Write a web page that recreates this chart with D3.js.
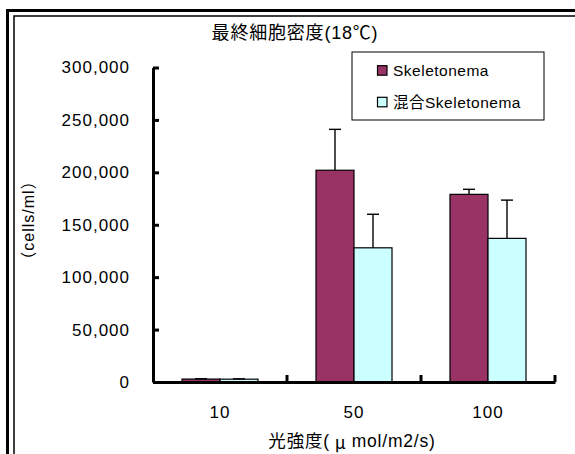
<!DOCTYPE html>
<html><head><meta charset="utf-8">
<script src="https://cdn.jsdelivr.net/npm/d3@7"></script>
<style>body{margin:0;background:#fff} svg{display:block}</style>
</head><body>
<svg id="c" width="575" height="454"></svg>
<script>
const categories = ["10", "50", "100"];
const seriesNames = ["Skeletonema", "混合Skeletonema"];
const skeletonema = [2800, 202000, 179000];
const skeletonemaErr = [300, 39000, 4800];
const mixed = [2700, 128000, 137000];
const mixedErr = [300, 32000, 36500];
const yTicks = [0, 50000, 100000, 150000, 200000, 250000, 300000];
const seriesColors = ["#993366", "#CCFFFF"];
const titleText = "最終細胞密度(18℃)";
const yTitleText = "（cells/ml）";
const xTitleParts = ["光強度(", "μ", "mol/m2/s)"];

const LAT = "'Liberation Sans', Arial, 'Noto Sans CJK JP', sans-serif";
const CJK = "'Noto Sans CJK JP', sans-serif";

const svg = d3.select("#c");
svg.append("rect").attr("width", 575).attr("height", 454).attr("fill", "#fff");

// double frame
svg.append("rect").attr("x", 7.5).attr("y", 10.5).attr("width", 700).attr("height", 600)
  .attr("fill", "none").attr("stroke", "#000").attr("stroke-width", 3);
svg.append("rect").attr("x", 14).attr("y", 16).attr("width", 700).attr("height", 600)
  .attr("fill", "none").attr("stroke", "#000").attr("stroke-width", 1.5);

const x0 = d3.scaleBand().domain(categories).range([153, 555]).paddingInner(0).paddingOuter(0);
const x1 = d3.scaleBand().domain(seriesNames).range([0, x0.bandwidth()]).paddingInner(0).paddingOuter(0.763);
const y = d3.scaleLinear().domain([0, 300000]).range([382, 67.5]);

const series = [
  {name: seriesNames[0], values: skeletonema, errs: skeletonemaErr, color: seriesColors[0]},
  {name: seriesNames[1], values: mixed, errs: mixedErr, color: seriesColors[1]}
];

// bars
series.forEach(s => {
  const g = svg.append("g");
  categories.forEach((c, i) => {
    const bx = x0(c) + x1(s.name);
    g.append("rect")
      .attr("x", bx).attr("y", y(s.values[i]))
      .attr("width", x1.bandwidth()).attr("height", y(0) - y(s.values[i]))
      .attr("fill", s.color).attr("stroke", "#000").attr("stroke-width", 1.2);
    const cx = bx + x1.bandwidth() / 2;
    const top = y(s.values[i] + s.errs[i]);
    g.append("line").attr("x1", cx).attr("x2", cx).attr("y1", y(s.values[i])).attr("y2", top)
      .attr("stroke", "#000").attr("stroke-width", 1.4);
    g.append("line").attr("x1", cx - 6).attr("x2", cx + 6).attr("y1", top).attr("y2", top)
      .attr("stroke", "#000").attr("stroke-width", 1.4);
  });
});

// y axis
const yAxis = d3.axisLeft(y).tickValues(yTicks).tickFormat(d3.format(",")).tickSizeInner(-6).tickSizeOuter(0).tickPadding(23);
const gy = svg.append("g").attr("transform", "translate(153,0)").call(yAxis);
gy.select(".domain").attr("stroke-width", 3);
gy.selectAll(".tick line").attr("stroke-width", 3);
gy.selectAll("text").attr("font-family", LAT).attr("font-size", 17).attr("letter-spacing", 1).attr("fill", "#000");

// x axis
const xAxis = d3.axisBottom(x0).tickSize(0).tickPadding(24);
const gx = svg.append("g").attr("transform", "translate(0,382)").call(xAxis);
gx.select(".domain").attr("stroke-width", 3);
gx.selectAll("text").attr("font-family", LAT).attr("font-size", 17).attr("letter-spacing", 1).attr("fill", "#000");
gx.selectAll(".bound").data(categories).enter().append("line")
  .attr("x1", d => x0(d) + x0.bandwidth()).attr("x2", d => x0(d) + x0.bandwidth())
  .attr("y1", 0).attr("y2", -7).attr("stroke", "#000").attr("stroke-width", 3);

// title
svg.append("text").attr("x", 295).attr("y", 33).attr("text-anchor", "middle")
  .attr("dominant-baseline", "central")
  .attr("font-family", LAT).attr("font-size", 18).attr("letter-spacing", 0.8).text(titleText);

// x title
const xt = svg.append("text").attr("x", 352).attr("y", 441).attr("text-anchor", "middle")
  .attr("dominant-baseline", "central")
  .attr("font-family", LAT).attr("font-size", 17.5).attr("letter-spacing", 0.8);
xt.append("tspan").text(xTitleParts[0]);
xt.append("tspan").attr("dx", 5).attr("font-family", CJK).text(xTitleParts[1]);
xt.append("tspan").attr("dx", 5).text(xTitleParts[2]);

// y title
svg.append("text").attr("transform", "translate(28.5,220) rotate(-90)")
  .attr("text-anchor", "middle").attr("dominant-baseline", "central")
  .attr("font-family", LAT).attr("font-size", 16).attr("letter-spacing", 1).text(yTitleText);

// legend
const lg = svg.append("g");
lg.append("rect").attr("x", 352).attr("y", 52).attr("width", 192).attr("height", 68)
  .attr("fill", "#fff").attr("stroke", "#000").attr("stroke-width", 1);
const rowsY = [70.7, 102.3];
series.forEach((s, i) => {
  lg.append("rect").attr("x", 377.5).attr("y", rowsY[i] - 5).attr("width", 9.5).attr("height", 9.5)
    .attr("fill", s.color).attr("stroke", "#000").attr("stroke-width", 1.2);
  lg.append("text").attr("x", 393).attr("y", rowsY[i]).attr("dominant-baseline", "central")
    .attr("font-family", LAT).attr("font-size", 15.5).attr("letter-spacing", 0.5).text(s.name);
});
</script>
</body></html>
